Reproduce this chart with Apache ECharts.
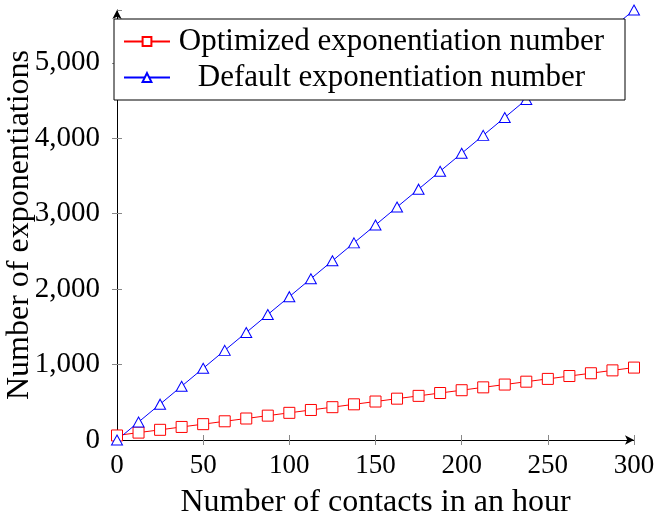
<!DOCTYPE html>
<html><head><meta charset="utf-8">
<script src="https://cdn.jsdelivr.net/npm/echarts@6/dist/echarts.min.js"></script>
<style>html,body{margin:0;padding:0;background:#fff}#c{width:657px;height:514px}</style>
</head><body><div id="c"></div>
<script>
const contacts = [0,12.5,25,37.5,50,62.5,75,87.5,100,112.5,125,137.5,150,162.5,175,187.5,200,212.5,225,237.5,250,262.5,275,287.5,300];
const optimized = [60,98,135,173,210,248,285,323,360,398,435,473,510,548,585,623,660,698,735,773,810,848,885,923,960];
const defaultNum = [0,238,475,713,950,1188,1425,1663,1900,2138,2375,2613,2850,3088,3325,3563,3800,4038,4275,4513,4750,4988,5225,5463,5700];
const xTicks = [0,50,100,150,200,250,300];
const yTicks = [0,1000,2000,3000,4000,5000];
const seriesNames = ['Optimized exponentiation number','Default exponentiation number'];

const FONT = 'Liberation Serif';
const chart = echarts.init(document.getElementById('c'));
const fmt = v => yTicks.includes(v) ? v.toLocaleString('en-US') : '';
const fmtX = v => xTicks.includes(v) ? String(v) : '';
chart.setOption({
  animation:false,
  grid:{left:117,right:23,top:10,bottom:74,containLabel:false,outerBoundsMode:'none'},
  legend:{
    orient:'vertical', left:114, top:19, itemWidth:46, itemHeight:11, itemGap:5,
    backgroundColor:'#fff', borderColor:'#000', borderWidth:1, padding:[7,17,7,9],
    textStyle:{fontFamily:FONT,fontSize:31,color:'#000',
      rich:{a:{fontFamily:FONT,fontSize:31,color:'#000',width:433,align:'center',lineHeight:31}}},
    formatter: n => '{a|'+n+'}',
    data:seriesNames, z:10
  },
  xAxis:[{
    type:'value', min:0, max:300, interval:50,
    name:'Number of contacts in an hour', nameLocation:'middle', nameGap:47, nameMoveOverlap:false,
    nameTextStyle:{fontFamily:FONT,fontSize:32,color:'#000'},
    axisLine:{lineStyle:{color:'#000',width:1},symbol:['none','arrow'],symbolSize:[7,9]},
    axisTick:{length:5,lineStyle:{color:'#888'}},
    axisLabel:{fontFamily:FONT,fontSize:27,color:'#000',margin:12,formatter:fmtX},
    splitLine:{show:false}
  },{
    type:'value', min:0, max:300, interval:50, position:'bottom',
    axisLine:{show:false}, axisLabel:{show:false}, splitLine:{show:false},
    axisTick:{inside:true,length:5,lineStyle:{color:'#888'}}
  }],
  yAxis:[{
    type:'value', min:0, max:5700, interval:1000,
    name:'Number of exponentiations', nameLocation:'middle', nameGap:81, nameMoveOverlap:false,
    nameTextStyle:{fontFamily:FONT,fontSize:32,color:'#000'},
    axisLine:{lineStyle:{color:'#000',width:1},symbol:['none','arrow'],symbolSize:[7,9]},
    axisTick:{length:5,lineStyle:{color:'#888'}},
    axisLabel:{fontFamily:FONT,fontSize:29,color:'#000',margin:17,formatter:fmt,showMaxLabel:false},
    splitLine:{show:false}
  },{
    type:'value', min:0, max:5700, interval:1000, position:'left',
    axisLine:{show:false}, axisLabel:{show:false}, splitLine:{show:false},
    axisTick:{inside:true,length:5,lineStyle:{color:'#888'}}
  }],
  series:[{
    name:seriesNames[0], type:'line', data:contacts.map((x,i)=>[x,optimized[i]]),
    symbol:'rect', symbolSize:11, clip:false,
    lineStyle:{color:'#ff0000',width:1}, itemStyle:{color:'#fff',borderColor:'#ff0000',borderWidth:1}
  },{
    name:seriesNames[1], type:'line', data:contacts.map((x,i)=>[x,defaultNum[i]]),
    symbol:'triangle', symbolSize:[11,10], clip:false,
    lineStyle:{color:'#0000ff',width:1}, itemStyle:{color:'#fff',borderColor:'#0000ff',borderWidth:1}
  }]
});
</script></body></html>
